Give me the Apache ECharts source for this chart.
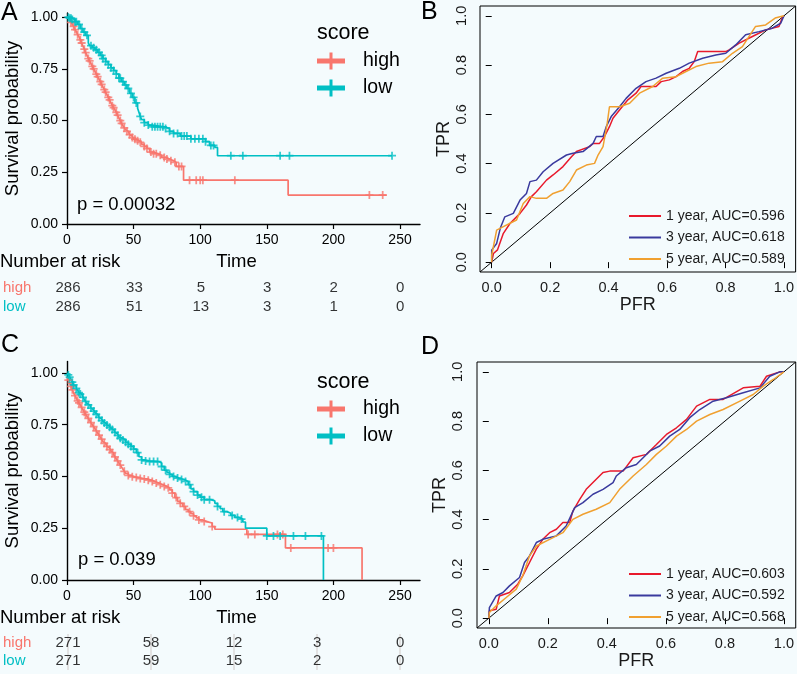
<!DOCTYPE html>
<html>
<head>
<meta charset="utf-8">
<script src="https://cdn.jsdelivr.net/npm/echarts@6/dist/echarts.min.js"></script>
<style>
html,body{margin:0;padding:0;background:#f4fbfd;}
#c{width:797px;height:674px;}
</style>
</head>
<body>
<div id="c"></div>
<script>
// ---------- DATA ----------
const kmTimeTicks = [0, 50, 100, 150, 200, 250];
const kmSurvTicks = [0, 0.25, 0.5, 0.75, 1];
const rocTicks = [0, 0.2, 0.4, 0.6, 0.8, 1];
const groups = ['high', 'low'];

// Panel A: Kaplan-Meier step points [time, survival]
const kmA_high = [[0,1],[1,0.993],[2,0.986],[3,0.975],[4,0.965],[5,0.955],[6,0.94],[7,0.93],[8,0.915],[9,0.905],[10,0.89],[11,0.875],[12,0.86],[13,0.845],[14,0.828],[15,0.815],[16,0.8],[17,0.788],[18,0.775],[19,0.762],[20,0.75],[21,0.738],[22,0.725],[23,0.712],[24,0.7],[25,0.688],[26,0.675],[27,0.662],[28,0.65],[29,0.637],[30,0.625],[31,0.612],[32,0.6],[33,0.585],[34,0.572],[35,0.562],[36,0.552],[37,0.54],[38,0.526],[39,0.512],[40,0.5],[41,0.487],[42,0.475],[43,0.465],[44,0.455],[45,0.448],[46,0.44],[47,0.432],[48,0.425],[49,0.418],[50,0.41],[52,0.402],[54,0.395],[56,0.385],[58,0.375],[60,0.365],[62,0.348],[65,0.34],[68,0.332],[71,0.322],[74,0.314],[77,0.306],[80,0.298],[82,0.278],[87.5,0.212],[166,0.14],[240,0.14]];
const kmA_low = [[0,1],[2,0.995],[4,0.988],[6,0.978],[8,0.965],[10,0.945],[12,0.928],[14,0.912],[16,0.875],[17,0.862],[19,0.852],[21,0.842],[23,0.83],[25,0.815],[27,0.8],[29,0.785],[31,0.77],[33,0.755],[35,0.742],[37,0.725],[39,0.705],[41,0.688],[43,0.672],[45,0.655],[47,0.632],[49,0.612],[51,0.585],[53,0.56],[54,0.54],[55,0.52],[56,0.505],[58,0.49],[61,0.478],[64,0.47],[73,0.462],[77,0.448],[80,0.438],[85,0.425],[93,0.412],[104,0.398],[107,0.38],[111,0.37],[113,0.33],[244,0.33]];
const censA_high = [3,5,6,8,10,11,13,14,16,17,19,20,22,23,25,26,28,29,31,32,34,35,37,38,40,41,43,45,47,49,51,53,55,58,60,63,65,67,70,73,75,78,81,84,86,92,97,100,102,126,227,237];
const censA_low = [1,2,3,4,6,7,9,11,13,15,18,20,22,24,26,27,29,31,33,35,37,39,40,42,44,46,48,50,52,55,58,61,64,66,68,70,72,74,77,80,83,86,88,90,93,96,99,102,104,108,110,123,132,160,167,244];

// Panel C
const kmC_high = [[0,0.98],[1,0.965],[2,0.95],[3,0.935],[4,0.918],[5,0.902],[6,0.89],[7,0.878],[8,0.865],[9,0.855],[10,0.845],[11,0.833],[12,0.822],[13,0.81],[14,0.8],[15,0.79],[16,0.78],[17,0.77],[18,0.76],[19,0.75],[20,0.74],[21,0.73],[22,0.72],[23,0.71],[24,0.7],[25,0.69],[26,0.68],[27,0.668],[28,0.66],[29,0.652],[30,0.645],[31,0.638],[32,0.63],[33,0.622],[34,0.615],[35,0.605],[36,0.595],[37,0.585],[38,0.575],[39,0.565],[40,0.555],[41,0.545],[42,0.535],[43,0.525],[44,0.515],[46,0.505],[48,0.498],[51,0.495],[54,0.49],[57,0.488],[60,0.482],[63,0.476],[66,0.468],[69,0.46],[72,0.452],[75,0.445],[77,0.435],[79,0.42],[81,0.398],[83,0.38],[85,0.37],[87,0.355],[89,0.34],[91,0.33],[93,0.32],[95,0.31],[97,0.3],[99,0.29],[102,0.282],[105,0.275],[109,0.258],[111,0.245],[135,0.22],[164,0.155],[221.5,0]];
const kmC_low = [[0,1],[1,0.99],[2,0.98],[3,0.97],[4,0.955],[5,0.942],[6,0.935],[7,0.925],[8,0.915],[9,0.905],[10,0.898],[11,0.89],[12,0.882],[13,0.872],[14,0.862],[15,0.852],[16,0.845],[17,0.838],[18,0.83],[19,0.822],[20,0.815],[21,0.808],[22,0.8],[23,0.792],[24,0.785],[25,0.778],[26,0.77],[27,0.765],[28,0.758],[29,0.752],[30,0.748],[31,0.742],[32,0.737],[33,0.732],[34,0.727],[35,0.72],[36,0.713],[37,0.706],[38,0.698],[39,0.69],[40,0.684],[42,0.676],[44,0.665],[46,0.655],[48,0.645],[50,0.632],[52,0.615],[54,0.595],[56,0.58],[58,0.575],[62,0.572],[69,0.565],[71,0.548],[73,0.53],[75,0.52],[77,0.51],[79,0.5],[81,0.492],[84,0.485],[88,0.476],[91,0.46],[93,0.44],[95,0.427],[98,0.41],[100,0.4],[103,0.388],[108,0.382],[111,0.37],[113,0.355],[115,0.345],[117,0.33],[120,0.322],[123,0.312],[126,0.302],[129,0.294],[132,0.28],[134,0.25],[150,0.213],[192.5,0]];
const censC_high = [1,3,4,6,8,9,11,13,14,16,18,20,22,24,26,28,30,32,34,36,38,40,43,46,49,52,55,58,61,64,67,70,73,76,79,82,85,88,92,95,99,103,109,136,141,158,162,168,196,200];
const censC_low = [1,2,4,5,7,9,10,12,14,16,18,20,22,24,26,28,30,32,34,36,38,40,42,44,46,48,50,53,56,59,62,65,68,71,74,77,80,83,86,89,92,95,98,101,103,107,113,118,124,128,131,150,155,160,170,179,191];

// Risk tables
const riskTimesA = [0, 50, 100, 150, 200, 250];
const riskA_high = [286, 33, 5, 3, 2, 0];
const riskA_low  = [286, 51, 13, 3, 1, 0];
const riskTimesC = [0, 62.5, 125, 187.5, 250];
const riskC_high = [271, 58, 12, 3, 0];
const riskC_low  = [271, 59, 15, 2, 0];

// ROC curves [FPR, TPR]
const rocB_1 = [[0,0],[0.006,0.035],[0.02,0.05],[0.04,0.117],[0.0625,0.157],[0.097,0.198],[0.119,0.232],[0.136,0.266],[0.153,0.286],[0.1875,0.333],[0.21,0.354],[0.244,0.388],[0.273,0.428],[0.29,0.449],[0.335,0.469],[0.347,0.482],[0.369,0.482],[0.386,0.51],[0.403,0.55],[0.415,0.584],[0.4375,0.618],[0.466,0.659],[0.494,0.686],[0.511,0.713],[0.5625,0.713],[0.58,0.733],[0.608,0.74],[0.631,0.753],[0.653,0.774],[0.676,0.787],[0.693,0.814],[0.705,0.855],[0.801,0.855],[0.8125,0.862],[0.847,0.889],[0.892,0.916],[0.9375,0.943],[0.983,0.957],[0.994,0.991],[1,1]];
const rocB_3 = [[0,0],[0,0.049],[0.017,0.076],[0.03,0.14],[0.045,0.184],[0.074,0.198],[0.097,0.252],[0.119,0.279],[0.131,0.327],[0.153,0.333],[0.176,0.367],[0.21,0.401],[0.256,0.435],[0.278,0.442],[0.3125,0.449],[0.347,0.482],[0.358,0.51],[0.381,0.51],[0.392,0.55],[0.409,0.591],[0.4375,0.631],[0.46,0.665],[0.494,0.706],[0.528,0.733],[0.5625,0.747],[0.597,0.767],[0.642,0.787],[0.676,0.808],[0.722,0.828],[0.767,0.841],[0.801,0.848],[0.835,0.882],[0.869,0.923],[0.915,0.936],[0.96,0.95],[0.989,0.97],[1,1]];
const rocB_5 = [[0,0],[0,0.028],[0.017,0.13],[0.04,0.144],[0.085,0.171],[0.108,0.238],[0.131,0.266],[0.153,0.259],[0.1875,0.259],[0.21,0.279],[0.244,0.293],[0.267,0.327],[0.29,0.374],[0.324,0.394],[0.352,0.401],[0.364,0.435],[0.381,0.469],[0.395,0.56],[0.403,0.631],[0.4375,0.631],[0.472,0.645],[0.506,0.686],[0.551,0.713],[0.585,0.747],[0.631,0.753],[0.665,0.774],[0.699,0.794],[0.744,0.808],[0.79,0.814],[0.824,0.848],[0.858,0.875],[0.903,0.957],[0.9375,0.963],[0.97,0.991],[1,1]];
const rocD_1 = [[0,0],[0.002,0.03],[0.025,0.036],[0.036,0.09],[0.07,0.104],[0.098,0.138],[0.115,0.172],[0.138,0.226],[0.161,0.28],[0.183,0.32],[0.206,0.347],[0.229,0.361],[0.251,0.388],[0.274,0.388],[0.285,0.435],[0.308,0.482],[0.33,0.523],[0.364,0.564],[0.387,0.591],[0.41,0.597],[0.455,0.597],[0.489,0.651],[0.534,0.665],[0.568,0.705],[0.602,0.746],[0.636,0.773],[0.67,0.807],[0.704,0.861],[0.749,0.888],[0.794,0.888],[0.862,0.935],[0.919,0.942],[0.941,0.982],[0.986,1],[1,1]];
const rocD_3 = [[0,0],[0.002,0.043],[0.025,0.09],[0.048,0.104],[0.07,0.131],[0.104,0.165],[0.121,0.226],[0.138,0.253],[0.161,0.307],[0.183,0.32],[0.229,0.334],[0.262,0.374],[0.291,0.449],[0.319,0.469],[0.353,0.503],[0.387,0.523],[0.421,0.55],[0.432,0.577],[0.466,0.611],[0.5,0.624],[0.545,0.678],[0.579,0.699],[0.613,0.739],[0.647,0.766],[0.681,0.814],[0.715,0.847],[0.76,0.881],[0.805,0.895],[0.862,0.915],[0.919,0.935],[0.952,0.982],[0.986,1],[1,1]];
const rocD_5 = [[0,0],[0.002,0.023],[0.025,0.05],[0.059,0.084],[0.093,0.118],[0.115,0.172],[0.138,0.253],[0.161,0.293],[0.206,0.32],[0.251,0.347],[0.285,0.401],[0.319,0.422],[0.364,0.442],[0.41,0.469],[0.443,0.523],[0.489,0.577],[0.534,0.624],[0.568,0.665],[0.602,0.699],[0.636,0.739],[0.67,0.766],[0.704,0.8],[0.749,0.827],[0.794,0.847],[0.851,0.881],[0.896,0.908],[0.93,0.942],[0.964,0.969],[1,1]];
const diagLine = [[-0.04,-0.04],[1.04,1.04]];
const rocNamesB = ['1 year, AUC=0.596', '3 year, AUC=0.618', '5 year, AUC=0.589'];
const rocNamesD = ['1 year, AUC=0.603', '3 year, AUC=0.592', '5 year, AUC=0.568'];

// ---------- STYLE ----------
const FONT = '"Liberation Sans", Arial, Helvetica, sans-serif';
const COL = {high: '#F8766D', low: '#00BFC4'};
const ROC_COL = ['#e8192c', '#3a3a9e', '#f0a030'];
const crossPath = 'path://M-1.1,-5H1.1V-1.1H5V1.1H1.1V5H-1.1V1.1H-5V-1.1H-1.1Z';
const legendIconKM = 'path://M0,6H28V11H0Z M12.5,0H15.5V17H12.5Z';

function survAt(curve, t) {
  let s = curve[0][1];
  for (const p of curve) { if (p[0] <= t) s = p[1]; else break; }
  return s;
}

function kmAxes(gi, ymax) {
  return {
    x: {type:'value', gridIndex:gi, min:0, max:265,
        axisLine:{show:true, lineStyle:{color:'#000', width:1.4}},
        axisTick:{show:true, inside:false, length:5, lineStyle:{color:'#000', width:1.2}, customValues:kmTimeTicks},
        axisLabel:{customValues:kmTimeTicks, color:'#000', fontSize:14, fontFamily:FONT, margin:9},
        splitLine:{show:false},
        name:'Time', nameLocation:'middle', nameGap:28,
        nameTextStyle:{fontSize:18.5, fontFamily:FONT, color:'#000', padding:[0,14,0,0]}},
    y: {type:'value', gridIndex:gi, min:0, max:ymax,
        axisLine:{show:true, lineStyle:{color:'#000', width:1.4}},
        axisTick:{show:true, inside:false, length:5, lineStyle:{color:'#000', width:1.2}, customValues:kmSurvTicks},
        axisLabel:{customValues:kmSurvTicks, color:'#000', fontSize:14, fontFamily:FONT, margin:9,
                   formatter:v=>v.toFixed(2)},
        splitLine:{show:false},
        name:'Survival probability', nameLocation:'middle', nameGap:45,
        nameTextStyle:{fontSize:18.5, fontFamily:FONT, color:'#000'}}
  };
}
function riskAxes(gi) {
  return {
    x: {type:'value', gridIndex:gi, min:0, max:265, show:false},
    y: {type:'category', gridIndex:gi, data:['low','high'],
        axisLine:{show:false}, axisTick:{show:false}, splitLine:{show:false},
        axisLabel:{interval:0, align:'left', margin:65, fontSize:15, fontFamily:FONT, hideOverlap:false,
          formatter:v=>'{'+v+'|'+v+'}',
          rich:{high:{color:COL.high, fontSize:15, fontFamily:FONT}, low:{color:COL.low, fontSize:15, fontFamily:FONT}}}}
  };
}
function rocAxes(gi, ymargin) {
  const common = {type:'value', gridIndex:gi, min:-0.04, max:1.04,
    axisLine:{show:false},
    axisTick:{show:true, inside:false, length:6, lineStyle:{color:'#000', width:1}, customValues:rocTicks},
    splitLine:{show:false}};
  return {
    x: Object.assign({}, common, {
      axisLabel:{customValues:rocTicks, color:'#1a1a1a', fontSize:14.5, fontFamily:FONT, margin:8, formatter:v=>v.toFixed(1)},
      name:'PFR', nameLocation:'middle', nameGap:24,
      nameTextStyle:{fontSize:18, fontFamily:FONT, color:'#1a1a1a'}}),
    y: Object.assign({}, common, {
      axisLabel:{customValues:rocTicks, color:'#1a1a1a', fontSize:14.5, fontFamily:FONT, margin:ymargin, rotate:90, formatter:v=>v.toFixed(1)},
      name:'TPR', nameLocation:'middle', nameGap:25,
      nameTextStyle:{fontSize:18, fontFamily:FONT, color:'#1a1a1a'}})
  };
}

const grids = [
  {left:67, top:13, width:353, height:211},
  {left:67, top:278, width:353, height:38},
  {left:480, top:6, width:316, height:266, show:true, borderColor:'#000', borderWidth:1, backgroundColor:'transparent'},
  {left:67, top:361.5, width:353, height:218.5},
  {left:67, top:634, width:353, height:36},
  {left:477, top:362, width:319, height:266, show:true, borderColor:'#000', borderWidth:1, backgroundColor:'transparent'}
];
const axA = kmAxes(0, 1.02), axAr = riskAxes(1), axB = rocAxes(2, 11), axC = kmAxes(3, 1.055), axCr = riskAxes(4), axD = rocAxes(5, 12);
const xAxes = [axA.x, axAr.x, axB.x, axC.x, axCr.x, axD.x];
const yAxes = [axA.y, axAr.y, axB.y, axC.y, axCr.y, axD.y];

const series = [];
function addKM(ai, curves, cens) {
  groups.forEach((g, k) => {
    series.push({type:'line', name:g, xAxisIndex:ai, yAxisIndex:ai, data:curves[k], step:'end',
      showSymbol:false, symbol:'none', color:COL[g], lineStyle:{color:COL[g], width:1.7}, animation:false, z:2});
  });
  groups.forEach((g, k) => {
    series.push({type:'scatter', name:g + ' censored', xAxisIndex:ai, yAxisIndex:ai,
      data:cens[k].map(t => [t, survAt(curves[k], t)]),
      symbol:crossPath, symbolSize:8, itemStyle:{color:COL[g]}, animation:false, z:3});
  });
}
function addRisk(ai, times, hi, lo, lines) {
  if (lines) {
    series.push({type:'scatter', name:'risk columns', xAxisIndex:ai, yAxisIndex:ai, data:[], z:0, silent:true,
      markLine:{silent:true, symbol:['none','none'], label:{show:false}, z:0,
        lineStyle:{color:'#e2e2e2', width:2, type:'solid'}, animation:false,
        data: times.map(t => ({xAxis:t}))}});
  }
  const lab = {show:true, position:'inside', formatter:p=>String(p.value[2]), fontSize:15, fontFamily:FONT, color:'#000'};
  series.push({type:'scatter', name:'risk', xAxisIndex:ai, yAxisIndex:ai, symbolSize:0, label:lab, animation:false, z:5,
    data: times.map((t,i)=>[t,'high',hi[i]]).concat(times.map((t,i)=>[t,'low',lo[i]]))});
}
function addROC(ai, curves, names) {
  series.push({type:'line', name:'diag', xAxisIndex:ai, yAxisIndex:ai, data:diagLine, showSymbol:false, symbol:'none',
    lineStyle:{color:'#000', width:1}, animation:false});
  curves.forEach((c, k) => {
    series.push({type:'line', name:names[k], xAxisIndex:ai, yAxisIndex:ai, data:c, showSymbol:false, symbol:'none',
      color:ROC_COL[k], lineStyle:{color:ROC_COL[k], width:1.5}, animation:false});
  });
}
addKM(0, [kmA_high, kmA_low], [censA_high, censA_low]);
addRisk(1, riskTimesA, riskA_high, riskA_low, false);
addROC(2, [rocB_1, rocB_3, rocB_5], rocNamesB);
addKM(3, [kmC_high, kmC_low], [censC_high, censC_low]);
addRisk(4, riskTimesC, riskC_high, riskC_low, true);
addROC(5, [rocD_1, rocD_3, rocD_5], rocNamesD);

function txt(text, left, top, size, lh) {
  return {text, left, top, padding:0, itemGap:0,
    textStyle:{fontSize:size, fontWeight:'normal', fontFamily:FONT, color:'#000', lineHeight:lh}};
}
const titles = [
  txt('A', 1, 1, 25, 24), txt('B', 421, 0.5, 25, 24), txt('C', 1, 333, 25, 24), txt('D', 421, 335.5, 25, 24),
  txt('score', 317, 22, 21.5, 22), txt('score', 317, 371, 21.5, 22),
  txt('p = 0.00032', 77, 195, 18.5, 20), txt('p = 0.039', 78, 550, 18.5, 20),
  txt('Number at risk', 0, 252, 18.5, 20), txt('Number at risk', 0, 608, 18.5, 20)
];

function kmLegend(top) {
  return {data:groups, orient:'vertical', left:317, top, icon:legendIconKM, itemWidth:28, itemHeight:17,
    itemGap:7, padding:0, selectedMode:false,
    textStyle:{fontSize:19.5, fontFamily:FONT, color:'#000', lineHeight:20, padding:[0,0,0,13]}};
}
function rocLegend(top, names) {
  return {data:names, orient:'vertical', left:629, top, icon:'rect', itemWidth:32, itemHeight:2,
    itemGap:5.5, padding:0, selectedMode:false,
    textStyle:{fontSize:14, fontFamily:FONT, color:'#1a1a1a', lineHeight:16}};
}

const chart = echarts.init(document.getElementById('c'), null, {renderer:'canvas'});
chart.setOption({
  backgroundColor:'#f4fbfd',
  animation:false,
  title: titles,
  legend: [kmLegend(51), rocLegend(208, rocNamesB), kmLegend(399), rocLegend(566, rocNamesD)],
  grid: grids,
  xAxis: xAxes,
  yAxis: yAxes,
  series
});
</script>
</body>
</html>
